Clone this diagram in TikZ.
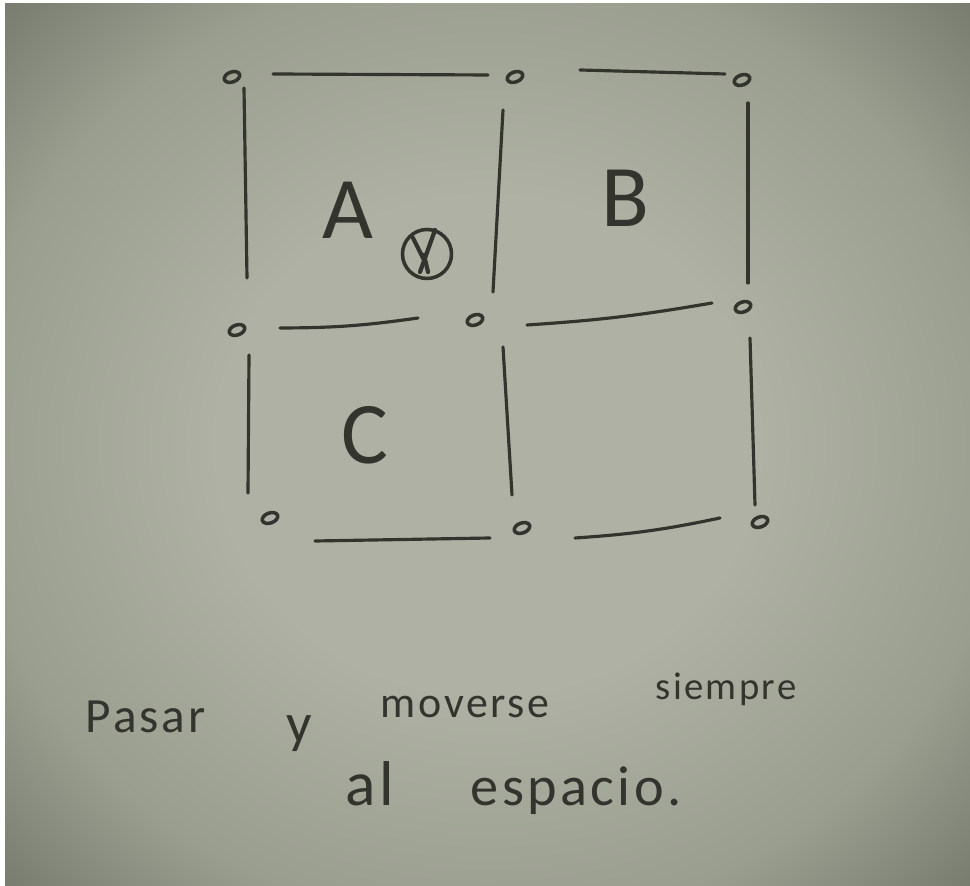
\documentclass[tikz,border=0pt]{standalone}
\usepackage{fontspec}
\newfontfamily\hand[LetterSpace=6]{Carlito}
\usepackage{tikz}
\usetikzlibrary{positioning,calc,shapes.geometric}
\definecolor{pencil}{HTML}{33342E}
\definecolor{paperhi}{HTML}{AEB1A3}
\definecolor{papermid}{HTML}{9A9E8F}
\definecolor{paperlo}{HTML}{767A6C}
\pgfdeclareradialshading{paper}{\pgfpoint{0bp}{0bp}}{color(0bp)=(paperhi); color(14bp)=(paperhi);
  color(27bp)=(papermid); color(36bp)=(paperlo); color(50bp)=(paperlo)}
\tikzset{
  post/.style={ellipse,draw=pencil,line width=1pt,minimum width=1.6mm,minimum height=1mm,inner sep=0pt,rotate=20},
  wall/.style={draw=pencil,line width=0.9pt,line cap=round},
  cell/.style={text=pencil,font=\hand\fontsize{25}{30}\selectfont,inner sep=0pt},
  word/.style={text=pencil,font=\hand\fontsize{#1}{#1}\selectfont,inner sep=0pt,anchor=base west},
  word/.default=14,
  player/.style={circle,draw=pencil,line width=1pt,minimum size=4.9mm,inner sep=0pt},
}

\begin{document}
\begin{tikzpicture}[x=0.01cm,y=-0.01cm]
  \useasboundingbox (0,0) rectangle (970,886);
  \fill[white] (0,0) rectangle (970,886);
  \shade[shading=paper] (5,4) rectangle (970,886);
  % grid posts
  \node[post] (d1) at (232,77) {};
  \node[post] (d2) at (515,77) {};
  \node[post] (d3) at (742,80) {};
  \node[post] (d4) at (237,330) {};
  \node[post] (d5) at (475,320) {};
  \node[post] (d6) at (743,307) {};
  \node[post] (d7) at (270,518) {};
  \node[post] (d8) at (522,528) {};
  \node[post] (d9) at (760,522) {};
  % walls, drawn short of the posts
  \draw[wall] ($(d1)+(41,-3)$) -- ($(d2)+(-27,-2)$);
  \draw[wall] ($(d2)+(65,-7)$) -- ($(d3)+(-17,-6)$);
  \draw[wall] ($(d1)+(12,11)$) -- ($(d4)+(10,-52)$);
  \draw[wall] ($(d2)+(-12,33)$) -- ($(d5)+(18,-28)$);
  \draw[wall] ($(d3)+(6,23)$) -- ($(d6)+(5,-24)$);
  \draw[wall] ($(d4)+(43,-2)$) to[bend right=4] ($(d5)+(-57,-2)$);
  \draw[wall] ($(d5)+(52,5)$) to[bend right=3] ($(d6)+(-31,-4)$);
  \draw[wall] ($(d4)+(12,25)$) -- ($(d7)+(-22,-25)$);
  \draw[wall] ($(d5)+(28,27)$) -- ($(d8)+(-10,-33)$);
  \draw[wall] ($(d6)+(7,31)$) -- ($(d9)+(-5,-17)$);
  \draw[wall] ($(d7)+(45,23)$) -- ($(d8)+(-32,10)$);
  \draw[wall] ($(d8)+(53,10)$) to[bend right=4] ($(d9)+(-40,-4)$);
  % cells
  \node[cell] (cellA) at (348,210) {A};
  \node[cell] (cellB) at (625,198) {B};
  \node[cell] (cellC) at (365,435) {C};
  % marked player in A
  \node[player] (me) at (427,254) {};
  \draw[wall,line width=1.2pt] ($(me)+(-14,-16)$) -- ($(me)+(-2,8)$);
  \draw[wall,line width=1.2pt] ($(me)+(8,-24)$) -- ($(me)+(-7,18)$);
  \draw[wall,line width=1.2pt] ($(me)+(-3,1)$) -- ($(me)+(1,18)$);
  % note
  \node[word=14] (wPasar) at (85,733) {Pasar};
  \node[word=16] (wY) at (286,742) {y};
  \node[word=12.5] (wMoverse) at (380,718) {moverse};
  \node[word=11] (wSiempre) at (655,700) {siempre};
  \node[word=18] (wAl) at (345,805) {al};
  \node[word=16] (wEspacio) at (470,805) {espacio.};
\end{tikzpicture}
\end{document}
